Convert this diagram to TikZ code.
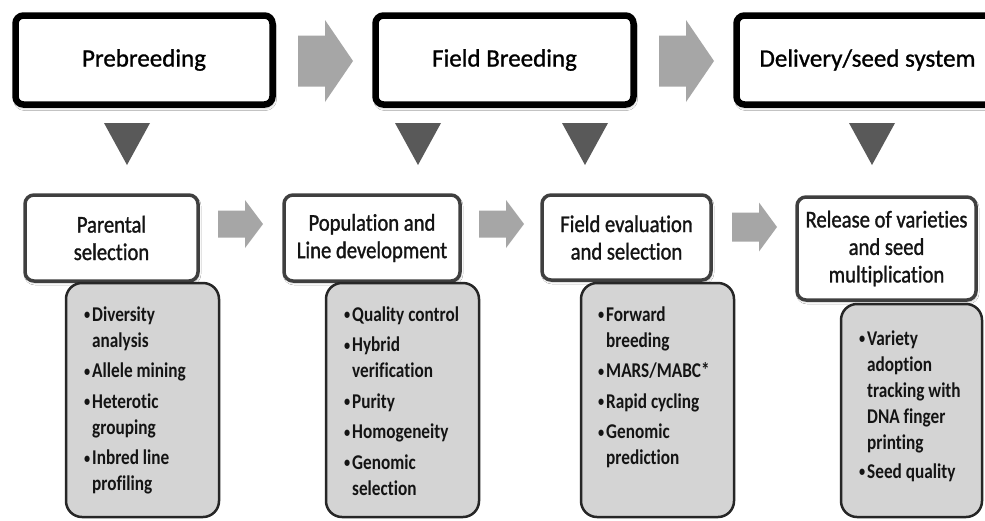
\documentclass[tikz,border=0pt]{standalone}
\usepackage{fontspec}
\setmainfont{Carlito}
\newfontfamily\headfont{Carlito}[Ligatures=CommonOff, FakeBold=1]
\newfontfamily\stagefont{Carlito}[Ligatures=CommonOff, FakeStretch=0.86, FakeBold=1.2]
\newfontfamily\listfont{Carlito}[Ligatures=CommonOff, FakeStretch=0.82]
\usetikzlibrary{shadows.blur}

\definecolor{arrowgray}{HTML}{A6A6A6}
\definecolor{trigray}{HTML}{595959}
\definecolor{stageedge}{HTML}{3F3F3F}
\definecolor{listfill}{HTML}{D4D4D4}
\definecolor{listedge}{HTML}{262626}
\definecolor{inktext}{HTML}{141414}

% small bullet followed by a short gap
\newcommand\bl{\makebox[8pt][l]{\raisebox{1.5pt}{\fontsize{15}{15}\selectfont\textbullet}}}

\tikzset{
  x=1pt, y=-1pt,
  phase/.style={draw=black, line width=6.5pt, fill=white, rounded corners=8pt,
    inner sep=0pt, text=black, font=\headfont\fontsize{25}{30}\selectfont,
    blur shadow={shadow xshift=1pt, shadow yshift=-3pt, shadow blur radius=3pt, shadow opacity=35}},
  stage/.style={draw=stageedge, line width=3.5pt, fill=white, rounded corners=9pt,
    inner sep=0pt, align=center, text=inktext, font=\stagefont\fontsize{24}{27.5}\selectfont,
    blur shadow={shadow xshift=1pt, shadow yshift=-2pt, shadow blur radius=2pt, shadow opacity=25}},
  listbox/.style={draw=listedge, line width=2.5pt, fill=listfill, rounded corners=16pt, inner sep=0pt},
  listtext/.style={anchor=base west, inner sep=0pt, text=inktext,
    font=\listfont\bfseries\fontsize{21}{26}\selectfont},
  pics/blockarrow/.style n args={4}{code={
    \fill[arrowgray] (0,-#3) -- (#2,-#3) -- (#2,-#4) -- (#1,0) -- (#2,#4) -- (#2,#3) -- (0,#3) -- cycle;}},
  pics/droptri/.style={code={
    \fill[trigray] (-23,0) -- (23,0) -- (0,42) -- cycle;}},
}

\begin{document}
\begin{tikzpicture}
\fill[white] (0,0) rectangle (985,520);
\useasboundingbox (0,0) rectangle (985,520);
\clip (0,0) rectangle (985,520);

% phase headers
\node[phase, minimum width=257pt, minimum height=89pt] (pre) at (144,60) {Prebreeding};
\node[phase, minimum width=258pt, minimum height=89pt] (field) at (504.5,60) {Field Breeding};
\node[phase, minimum width=262pt, minimum height=89pt] (deliv) at (867.5,60) {Delivery/seed system};

% block arrows between phases
\pic at (298,61) {blockarrow={55}{27}{25.5}{41}};
\pic at (659,61) {blockarrow={55}{27}{25.5}{41}};

% drop markers below the phases
\pic at (127,123) {droptri};
\pic at (418,123) {droptri};
\pic at (585,123) {droptri};
\pic at (872,123) {droptri};

% stages
\node[stage, minimum width=173pt, minimum height=86pt] (par) at (111.5,238) {Parental\\selection};
\node[stage, minimum width=176pt, minimum height=86pt] (pop) at (372,238) {Population and\\Line development};
\node[stage, minimum width=169pt, minimum height=85pt] (eval) at (626.5,237.5) {Field evaluation\\and selection};
\node[stage, minimum width=179pt, minimum height=103pt] (rel) at (886.5,248.5) {Release of varieties\\and seed\\multiplication};

% block arrows between stages
\pic at (218,224) {blockarrow={45}{27}{13.5}{24}};
\pic at (479,224) {blockarrow={45}{27}{13.5}{24}};
\pic at (732,227) {blockarrow={45}{27}{14.5}{24.5}};

% tool lists
\node[listbox, minimum width=153pt, minimum height=234pt] (l1) at (142.5,400) {};
\node[listbox, minimum width=153pt, minimum height=234pt] (l2) at (402.5,400) {};
\node[listbox, minimum width=153pt, minimum height=234pt] (l3) at (657.5,400) {};
\node[listbox, minimum width=141pt, minimum height=213pt] (l4) at (911.5,410.5) {};

\node[listtext] (t1) at (84,321) {\begin{tabular}[t]{@{}l@{}l@{}}
\bl & Diversity\\ & analysis\\[4.5pt]
\bl & Allele mining\\[4.5pt]
\bl & Heterotic\\ & grouping\\[4.5pt]
\bl & Inbred line\\ & profiling
\end{tabular}};

\node[listtext] (t2) at (344,321) {\begin{tabular}[t]{@{}l@{}l@{}}
\bl & Quality control\\[4.5pt]
\bl & Hybrid\\ & verification\\[4.5pt]
\bl & Purity\\[4.5pt]
\bl & Homogeneity\\[4.5pt]
\bl & Genomic\\ & selection
\end{tabular}};

\node[listtext] (t3) at (598,321) {\begin{tabular}[t]{@{}l@{}l@{}}
\bl & Forward\\ & breeding\\[4.5pt]
\bl & MARS/MABC*\\[4.5pt]
\bl & Rapid cycling\\[4.5pt]
\bl & Genomic\\ & prediction
\end{tabular}};

\node[listtext] (t4) at (859,345) {\begin{tabular}[t]{@{}l@{}l@{}}
\bl & Variety\\ & adoption\\ & tracking with\\ & DNA finger\\ & printing\\[3pt]
\bl & Seed quality
\end{tabular}};
\end{tikzpicture}
\end{document}
